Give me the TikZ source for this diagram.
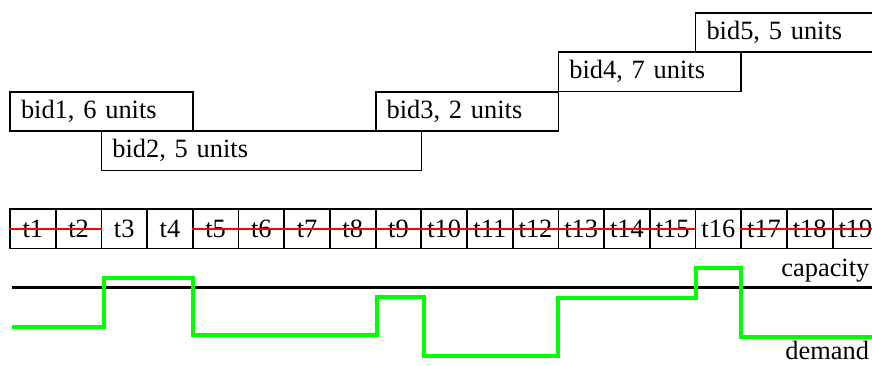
\documentclass[tikz,border=0pt]{standalone}
\usepackage{fontspec}
\setmainfont{Liberation Serif}
\usepackage{tikz}
\tikzset{%
    cell/.style={draw,line width=0.9pt,inner sep=0pt,minimum width=22.85pt,minimum height=19.75pt},
    bid/.style={draw,line width=0.9pt,anchor=north west,inner xsep=5.5pt,inner ysep=0pt,minimum height=19.65pt,text width=#1,align=left}
}

\begin{document}
\begin{tikzpicture}[x=0.5pt,y=-0.5pt,font=\fontsize{13.2}{15}\selectfont]
        \useasboundingbox (0,0) rectangle (872,365);
        \clip (0,0) rectangle (872,365);
        \foreach \i in {1,...,19}
            \node[cell] (t\i) at ({10+(\i-0.5)*45.7},228.75){t\i};
        \node[bid=80.4pt] (bid1) at (t1.west |- 0,91){bid1, 6 units};
        \node[bid=149pt] (bid2) at (t3.west |- 0,130.3){bid2, 5 units};
        \node[bid=80.4pt] (bid3) at (t9.west |- 0,90.7){bid3, 2 units};
        \node[bid=80.4pt] (bid4) at (t13.west |- 0,51.3){bid4, 7 units};
        \node[bid=80.4pt] (bid5) at (t16.west |- 0,12){bid5, 5 units};
        \draw[red,line width=0.8pt] (t1.west) -- (t2.east);
        \draw[red,line width=0.8pt] (t5.west) -- (t15.east);
        \draw[red,line width=0.8pt] (t17.west) -- (t19.east);
        \node[anchor=base west,inner sep=1pt] (cap) at (779,276){capacity};
        \node[anchor=base west,inner sep=1pt] (dem) at (783,359){demand};
        \draw[line width=1.5pt] (12,287.3) -- (880,287.3);
        \draw[green,line width=2pt] (12,327) -- (104,327) -- (104,277.5) -- (193,277.5) -- (193,335)
            -- (377,335) -- (377,297) -- (424,297) -- (424,356) -- (557.5,356) -- (557.5,297.5)
            -- (695.5,297.5) -- (695.5,268) -- (740.5,268) -- (740.5,337) -- (880,337);
    \end{tikzpicture}
\end{document}
